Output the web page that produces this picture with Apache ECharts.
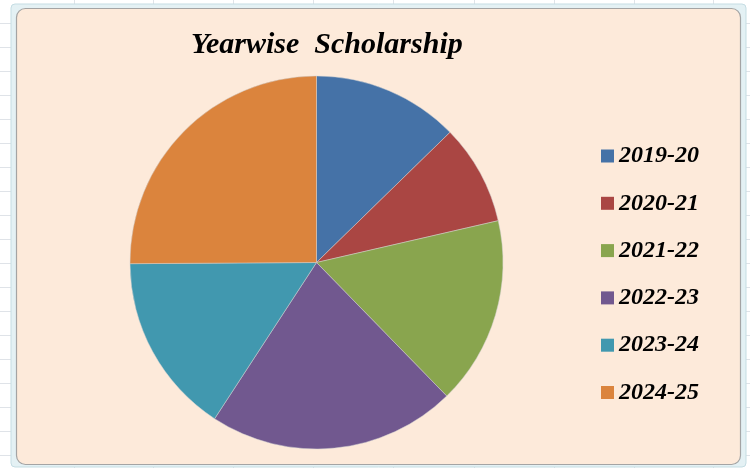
<!DOCTYPE html>
<html>
<head>
<meta charset="utf-8">
<script src="https://cdn.jsdelivr.net/npm/echarts@6/dist/echarts.min.js"></script>
<style>html,body{margin:0;padding:0;background:#fff;}#c{width:750px;height:468px;}</style>
</head>
<body>
<div id="c"></div>
<script>
var categories = ['2019-20', '2020-21', '2021-22', '2022-23', '2023-24', '2024-25'];
var values = [127, 87, 163, 215, 157, 251];
var colors = ['#4572A7', '#AA4643', '#89A54E', '#71588F', '#4198AF', '#DB843D'];
var titleText = 'Yearwise  Scholarship';

var chart = echarts.init(document.getElementById('c'), null, {renderer: 'canvas'});

var gridLines = [];
var xs = [74, 153, 233, 313, 393, 474, 554, 634, 713];
xs.forEach(function (x) {
  gridLines.push({type: 'line', shape: {x1: x + 0.5, y1: 0, x2: x + 0.5, y2: 468}, style: {stroke: '#dfe3e8', lineWidth: 1}, z: 0});
});
for (var y = 23; y < 468; y += 24) {
  gridLines.push({type: 'line', shape: {x1: 0, y1: y + 0.5, x2: 750, y2: y + 0.5}, style: {stroke: '#dfe3e8', lineWidth: 1}, z: 0});
}

var option = {
  backgroundColor: '#ffffff',
  animation: false,
  color: colors,
  graphic: gridLines.concat([
    {type: 'rect', shape: {x: 11, y: 4, width: 735, height: 463, r: 4}, style: {fill: '#e4f1f4', stroke: '#c5dde3', lineWidth: 1}, z: 1},
    {type: 'rect', shape: {x: 16.5, y: 8.5, width: 724, height: 456, r: 9}, style: {fill: '#FDEADA', stroke: '#a4a4a4', lineWidth: 1.2}, z: 2}
  ]),
  title: {
    text: titleText,
    left: 186,
    top: 25,
    textStyle: {fontFamily: 'Liberation Serif', fontStyle: 'italic', fontWeight: 'bold', fontSize: 30, color: '#000'}
  },
  legend: {
    orient: 'vertical',
    left: 596,
    top: 138,
    icon: 'rect',
    itemWidth: 13,
    itemHeight: 13,
    itemGap: 21.3,
    itemStyle: {borderWidth: 0},
    data: categories,
    textStyle: {fontFamily: 'Liberation Serif', fontStyle: 'italic', fontWeight: 'bold', fontSize: 24, color: '#000', lineHeight: 26}
  },
  series: [{
    type: 'pie',
    center: [316.5, 262.5],
    radius: 186.5,
    startAngle: 90,
    clockwise: true,
    label: {show: false},
    labelLine: {show: false},
    emphasis: {disabled: true},
    itemStyle: {borderColor: 'rgba(210,210,210,0.7)', borderWidth: 0.7},
    data: categories.map(function (c, i) { return {name: c, value: values[i]}; })
  }]
};
chart.setOption(option);
</script>
</body>
</html>
